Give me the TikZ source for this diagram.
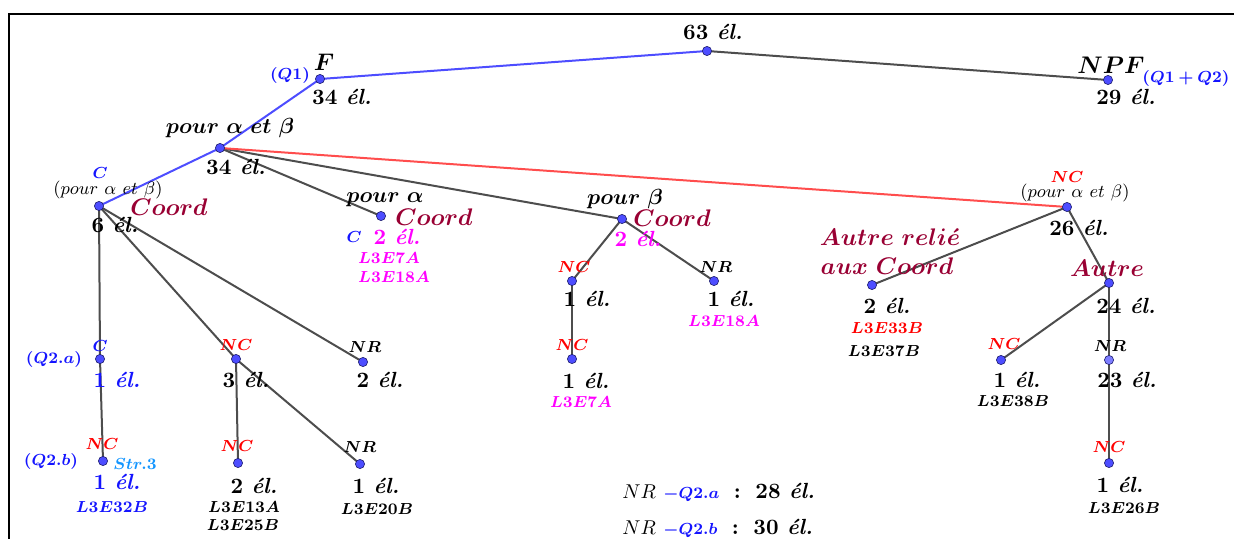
\documentclass[tikz,border=0pt,11pt]{standalone}
\usepackage{bm}
\definecolor{lblue}{RGB}{77,77,255}
\definecolor{lred}{RGB}{255,77,77}
\definecolor{lgray}{RGB}{77,77,77}
\definecolor{dotedge}{RGB}{30,30,110}
\definecolor{tblue}{RGB}{20,20,255}
\definecolor{tred}{RGB}{255,0,0}
\definecolor{tmaroon}{RGB}{153,0,51}
\definecolor{tmag}{RGB}{255,0,255}
\definecolor{tlight}{RGB}{20,150,255}
\definecolor{dotlight}{RGB}{125,125,255}
\newcommand{\myel}[1]{\textbf{#1\ \textit{él.}}}
\newcommand{\mb}[1]{$\bm{#1}$}
\begin{document}
\begin{tikzpicture}[x=0.5pt,y=-0.5pt,
  lab/.style={inner sep=0pt,font=\normalsize},
  big/.style={inner sep=0pt,font=\large},
  tiny/.style={inner sep=0pt,font=\scriptsize},
  smalltxt/.style={inner sep=0pt,font=\footnotesize},
  edgeblue/.style={draw=lblue,line width=1pt},
  edgered/.style={draw=lred,line width=1pt},
  edgegray/.style={draw=lgray,line width=1pt},
  dot/.style={circle,inner sep=0pt,minimum size=4.6pt,fill=lblue,draw=dotedge,line width=0.3pt},
  dotl/.style={dot,fill=dotlight}]
\useasboundingbox (0,0) rectangle (1236,539);
\draw[line width=0.9pt] (9,539) -- (9,14) -- (1234,14);
% coordinates of the tree points
\coordinate (root) at (707,51);
\coordinate (F) at (320,79);
\coordinate (NPF) at (1108,80);
\coordinate (pab) at (220,148);
\coordinate (C6) at (99,206);
\coordinate (pa) at (381,216);
\coordinate (pb) at (622,219);
\coordinate (NCab) at (1067,207);
\coordinate (Ar) at (872,285);
\coordinate (Au) at (1109,283);
\coordinate (Ca) at (100,359);
\coordinate (NC3) at (236,359);
\coordinate (NR2) at (363,362);
\coordinate (NCb) at (103,461);
\coordinate (NC2) at (238,463);
\coordinate (NR1b) at (360,464);
\coordinate (pbNC) at (572,281);
\coordinate (pbNR) at (714,281);
\coordinate (pbNC2) at (572,359);
\coordinate (AuNC) at (1001,360);
\coordinate (AuNR) at (1109,360);
\coordinate (AuNR2) at (1109,463);
% edges
\draw[edgegray] (root) -- (NPF);
\draw[edgegray] (pab) -- (pa);
\draw[edgegray] (pab) -- (pb);
\draw[edgered] (pab) -- (NCab);
\draw[edgeblue] (root) -- (F);
\draw[edgeblue] (F) -- (pab);
\draw[edgeblue] (pab) -- (C6);
\draw[edgegray] (C6) -- (Ca);
\draw[edgegray] (C6) -- (NC3);
\draw[edgegray] (C6) -- (NR2);
\draw[edgegray] (Ca) -- (NCb);
\draw[edgegray] (NC3) -- (NC2);
\draw[edgegray] (NC3) -- (NR1b);
\draw[edgegray] (pb) -- (pbNC);
\draw[edgegray] (pb) -- (pbNR);
\draw[edgegray] (pbNC) -- (pbNC2);
\draw[edgegray] (NCab) -- (Ar);
\draw[edgegray] (NCab) -- (Au);
\draw[edgegray] (Au) -- (AuNC);
\draw[edgegray] (Au) -- (AuNR);
\draw[edgegray] (AuNR) -- (AuNR2);
% dots
\foreach \p in {root,F,NPF,pab,C6,pa,pb,NCab,Ar,Au,Ca,NC3,NR2,NCb,NC2,NR1b,pbNC,pbNR,pbNC2,AuNC,AuNR2}
  \node[dot] (d\p) at (\p) {};
\node[dotl] (dAuNR) at (AuNR) {};
% labels
\node[lab] (l63) at (713,32) {\myel{63}};
\node[big] (lF) at (324,62) {\mb{F}};
\node[tiny,text=tblue] (lQ1) at (290,76) {\mb{(Q1)}};
\node[lab] (lF34) at (342,97) {\myel{34}};
\node[big] (lNPF) at (1111,65) {\mb{NPF}};
\node[tiny,text=tblue] (lQ12) at (1186,79) {\mb{(Q1+Q2)}};
\node[lab] (l29) at (1126,97) {\myel{29}};
\node[lab] (lpab) at (230,128) {\mb{pour\ \alpha\ et\ \beta}};
\node[lab] (lpab34) at (236,167) {\myel{34}};
\node[tiny,text=tblue] (lC) at (100,173) {\mb{C}};
\node[smalltxt] (lCpab) at (108,190) {$(pour\ \alpha\ et\ \beta)$};
\node[big,text=tmaroon] (lCoord1) at (169,207) {\mb{Coord}};
\node[lab] (l6) at (115,225) {\myel{6}};
\node[lab] (lpa) at (385,200) {\mb{pour\ \alpha}};
\node[big,text=tmaroon] (lCoord2) at (434,217) {\mb{Coord}};
\node[tiny,text=tblue] (lCpa) at (354,237) {\mb{C}};
\node[lab,text=tmag] (l2a) at (397,237) {\myel{2}};
\node[tiny,text=tmag] (lL7) at (389,258) {\mb{L3E7A}};
\node[tiny,text=tmag] (lL18) at (394,277) {\mb{L3E18A}};
\node[lab] (lpb) at (625,199) {\mb{pour\ \beta}};
\node[big,text=tmaroon] (lCoord3) at (672,218) {\mb{Coord}};
\node[lab,text=tmag] (l2b) at (638,239) {\myel{2}};
\node[tiny,text=tred] (lNCt) at (1067,177) {\mb{NC}};
\node[smalltxt] (lNCpab) at (1075,193) {$(pour\ \alpha\ et\ \beta)$};
\node[lab] (l26) at (1079,228) {\myel{26}};
\node[big,text=tmaroon] (lAr1) at (890,237) {\mb{Autre\ reli\acute{e}}};
\node[big,text=tmaroon] (lAr2) at (887,266) {\mb{aux\ Coord}};
\node[lab] (l2c) at (887,306) {\myel{2}};
\node[tiny,text=tred] (lL33) at (887,328) {\mb{L3E33B}};
\node[tiny] (lL37) at (884,351) {\mb{L3E37B}};
\node[big,text=tmaroon] (lAu) at (1107,268) {\mb{Autre}};
\node[lab] (l24) at (1126,306) {\myel{24}};
\node[tiny,text=tred] (lAuNC) at (1004,344) {\mb{NC}};
\node[lab] (l1d) at (1017,380) {\myel{1}};
\node[tiny] (lL38) at (1013,401) {\mb{L3E38B}};
\node[tiny] (lAuNR) at (1110,346) {\mb{NR}};
\node[lab] (l23) at (1127,380) {\myel{23}};
\node[tiny,text=tred] (lAuNC2) at (1109,447) {\mb{NC}};
\node[lab] (l1e) at (1120,485) {\myel{1}};
\node[tiny] (lL26) at (1124,508) {\mb{L3E26B}};
\node[tiny,text=tblue] (lCa) at (100,346) {\mb{C}};
\node[tiny,text=tblue] (lQ2a) at (54,360) {\mb{(Q2.a)}};
\node[lab,text=tblue] (l1a) at (117,380) {\myel{1}};
\node[tiny,text=tred] (lNCb) at (102,444) {\mb{NC}};
\node[tiny,text=tblue] (lQ2b) at (51,461) {\mb{(Q2.b)}};
\node[tiny,text=tlight] (lStr) at (135,464) {\mb{Str.3}};
\node[lab,text=tblue] (l1b) at (117,482) {\myel{1}};
\node[tiny,text=tblue] (lL32) at (112,507) {\mb{L3E32B}};
\node[tiny,text=tred] (lNC3) at (236,345) {\mb{NC}};
\node[lab] (l3) at (246,380) {\myel{3}};
\node[tiny] (lNR2) at (365,347) {\mb{NR}};
\node[lab] (l2d) at (380,380) {\myel{2}};
\node[tiny,text=tred] (lNC2) at (237,446) {\mb{NC}};
\node[lab] (l2e) at (254,486) {\myel{2}};
\node[tiny] (lL13) at (244,507) {\mb{L3E13A}};
\node[tiny] (lL25) at (243,525) {\mb{L3E25B}};
\node[tiny] (lNR1b) at (360,447) {\mb{NR}};
\node[lab] (l1c) at (376,486) {\myel{1}};
\node[tiny] (lL20) at (377,509) {\mb{L3E20B}};
\node[tiny,text=tred] (lpbNC) at (574,267) {\mb{NC}};
\node[lab] (l1f) at (587,299) {\myel{1}};
\node[tiny] (lpbNR) at (716,267) {\mb{NR}};
\node[lab] (l1g) at (731,299) {\myel{1}};
\node[tiny,text=tmag] (lL18b) at (724,321) {\mb{L3E18A}};
\node[tiny,text=tred] (lpbNC2) at (572,345) {\mb{NC}};
\node[lab] (l1h) at (586,381) {\myel{1}};
\node[tiny,text=tmag] (lL7b) at (581,402) {\mb{L3E7A}};
\node[lab,anchor=west] (sumA) at (622,492) {{\small$NR$}\ {\scriptsize\color{tblue}$\bm{-Q2.a}$}\ \ $\bm{:}$\ \ \myel{28}};
\node[lab,anchor=west] (sumB) at (622,528) {{\small$NR$}\ {\scriptsize\color{tblue}$\bm{-Q2.b}$}\ \ $\bm{:}$\ \ \myel{30}};
\end{tikzpicture}
\end{document}
